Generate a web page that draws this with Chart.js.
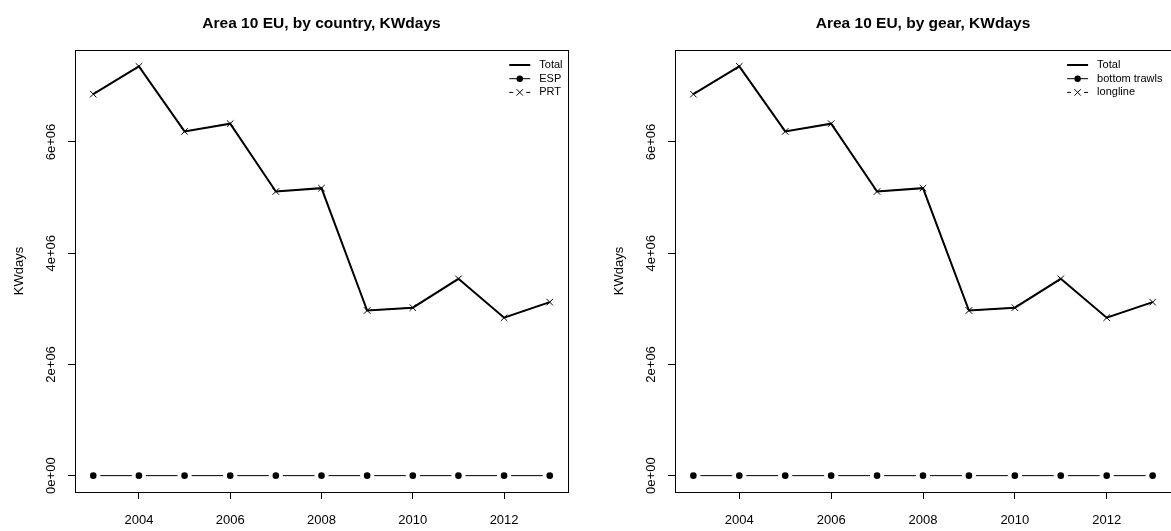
<!DOCTYPE html>
<html><head><meta charset="utf-8">
<script src="https://cdn.jsdelivr.net/npm/chart.js@4/dist/chart.umd.min.js"></script>
<style>
html,body{margin:0;padding:0;background:#fff;width:1171px;height:531px;overflow:hidden}
.p{position:absolute;top:0}
canvas{display:block}
</style></head><body>
<div class="p" style="left:0"><canvas id="c1" width="600" height="531"></canvas></div>
<div class="p" style="left:600px"><canvas id="c2" width="571" height="531"></canvas></div>
<script>
// ---- data ----
const years = [2003, 2004, 2005, 2006, 2007, 2008, 2009, 2010, 2011, 2012, 2013];
const totalKW = [6860000, 7360000, 6190000, 6330000, 5110000, 5170000, 2970000, 3020000, 3540000, 2840000, 3120000];
const espKW = [0, 0, 0, 0, 0, 0, 0, 0, 0, 0, 0];
const prtKW = [6860000, 7360000, 6190000, 6330000, 5110000, 5170000, 2970000, 3020000, 3540000, 2840000, 3120000];
const bottomTrawlsKW = [0, 0, 0, 0, 0, 0, 0, 0, 0, 0, 0];
const longlineKW = [6860000, 7360000, 6190000, 6330000, 5110000, 5170000, 2970000, 3020000, 3540000, 2840000, 3120000];
const xTicks = [2004, 2006, 2008, 2010, 2012];
const yTicks = [0, 2000000, 4000000, 6000000];
const yTickLabels = ['0e+00', '2e+06', '4e+06', '6e+06'];
const titles = ['Area 10 EU, by country, KWdays', 'Area 10 EU, by gear, KWdays'];
const legendLabels1 = ['Total', 'ESP', 'PRT'];
const legendLabels2 = ['Total', 'bottom trawls', 'longline'];
const yAxisTitle = 'KWdays';

const FONT = '"Liberation Sans", Arial, sans-serif';

function pts(vals) { return years.map((y, i) => ({x: y, y: vals[i]})); }

const xMinD = Math.min(...years), xMaxD = Math.max(...years);
const xPad = (xMaxD - xMinD) * 0.04;

function makeChart(id, title, labels, zeroSeries, mainSeries, padRight) {
  const allVals = totalKW.concat(zeroSeries, mainSeries);
  const yMinD = Math.min(...allVals), yMaxD = Math.max(...allVals);
  const yPad = (yMaxD - yMinD) * 0.04;

  const frame = {
    id: 'frame',
    afterDatasetsDraw(chart) {
      const ctx = chart.ctx, a = chart.chartArea;
      ctx.save();
      ctx.strokeStyle = '#000';
      ctx.lineWidth = 1;
      ctx.strokeRect(Math.round(a.left) + 0.5, Math.round(a.top) + 0.5,
                     Math.round(a.right - a.left), Math.round(a.bottom - a.top));
      // rotated y tick labels
      const ys = chart.scales.y;
      ctx.fillStyle = '#000';
      ctx.font = '13px ' + FONT;
      ctx.textAlign = 'center';
      ctx.textBaseline = 'middle';
      yTicks.forEach((v, i) => {
        const py = ys.getPixelForValue(v);
        ctx.save();
        ctx.translate(a.left - 24, py);
        ctx.rotate(-Math.PI / 2);
        ctx.fillText(yTickLabels[i], 0, 0);
        ctx.restore();
      });
      // legend
      ctx.font = '11px ' + FONT;
      ctx.textAlign = 'left';
      const maxW = Math.max(...labels.map(l => ctx.measureText(l).width));
      const tx = Math.min(a.right, chart.width - 3) - 5.5 - maxW;
      const l0 = tx - 30, l1 = tx - 9, lm = (l0 + l1) / 2;
      labels.forEach((lab, i) => {
        const y = 65 + i * 13.7;
        ctx.fillStyle = '#000';
        ctx.fillText(lab, tx, y);
        ctx.strokeStyle = '#000';
        ctx.beginPath();
        if (i === 0) {
          ctx.lineWidth = 2;
          ctx.moveTo(l0, y); ctx.lineTo(l1, y); ctx.stroke();
        } else if (i === 1) {
          ctx.lineWidth = 1;
          ctx.moveTo(l0, y); ctx.lineTo(l1, y); ctx.stroke();
          ctx.beginPath(); ctx.arc(lm, y, 3.2, 0, Math.PI * 2); ctx.fill();
        } else {
          ctx.lineWidth = 1;
          ctx.moveTo(l0, y); ctx.lineTo(l0 + 4, y);
          ctx.moveTo(l1 - 4, y); ctx.lineTo(l1, y);
          const r = 3.2;
          ctx.moveTo(lm - r, y - r); ctx.lineTo(lm + r, y + r);
          ctx.moveTo(lm - r, y + r); ctx.lineTo(lm + r, y - r);
          ctx.stroke();
        }
      });
      ctx.restore();
    }
  };

  return new Chart(document.getElementById(id), {
    type: 'line',
    data: {
      datasets: [
        { label: labels[1], data: pts(zeroSeries), borderColor: '#000', borderWidth: 1,
          pointStyle: 'circle', pointRadius: 5.2, pointBackgroundColor: '#000',
          pointBorderColor: '#fff', pointBorderWidth: 3.8, tension: 0 },
        { label: labels[2], data: pts(mainSeries), borderColor: '#000', borderWidth: 1,
          borderDash: [4, 4], pointStyle: 'crossRot', pointRadius: 4.6,
          pointBorderColor: '#000', pointBorderWidth: 1, tension: 0 },
        { label: labels[0], data: pts(totalKW), borderColor: '#000', borderWidth: 2,
          pointRadius: 0, tension: 0 }
      ]
    },
    options: {
      responsive: false,
      devicePixelRatio: 1,
      animation: false,
      events: [],
      layout: { autoPadding: false, padding: { left: 0, right: padRight, top: 0, bottom: 0 } },
      plugins: {
        legend: { display: false },
        tooltip: { enabled: false },
        title: {
          display: true, text: title, fullSize: false, color: '#000',
          font: { family: FONT, size: 15.5, weight: 'bold' },
          padding: { top: 14.5, bottom: 16.9 }
        }
      },
      scales: {
        x: {
          type: 'linear', min: xMinD - xPad, max: xMaxD + xPad,
          afterBuildTicks: s => { s.ticks = xTicks.map(v => ({ value: v })); },
          afterFit: s => { s.height = 39; },
          ticks: { callback: v => String(v), color: '#000', font: { family: FONT, size: 13 },
                   padding: 14, maxRotation: 0, minRotation: 0, autoSkip: false },
          grid: { drawOnChartArea: false, drawTicks: true, tickLength: 7, tickColor: '#000', lineWidth: 1 },
          border: { display: false }
        },
        y: {
          type: 'linear', min: yMinD - yPad, max: yMaxD + yPad,
          afterBuildTicks: s => { s.ticks = yTicks.map(v => ({ value: v })); },
          afterFit: s => { s.width = 75; },
          ticks: { display: false },
          grid: { drawOnChartArea: false, drawTicks: true, tickLength: 7, tickColor: '#000', lineWidth: 1 },
          border: { display: false },
          title: { display: true, text: yAxisTitle, color: '#000', font: { family: FONT, size: 13 },
                   padding: { top: 12, bottom: 0 } }
        }
      }
    },
    plugins: [frame]
  });
}

makeChart('c1', titles[0], legendLabels1, espKW, prtKW, 32);
makeChart('c2', titles[1], legendLabels2, bottomTrawlsKW, longlineKW, 0);
</script>
</body></html>
